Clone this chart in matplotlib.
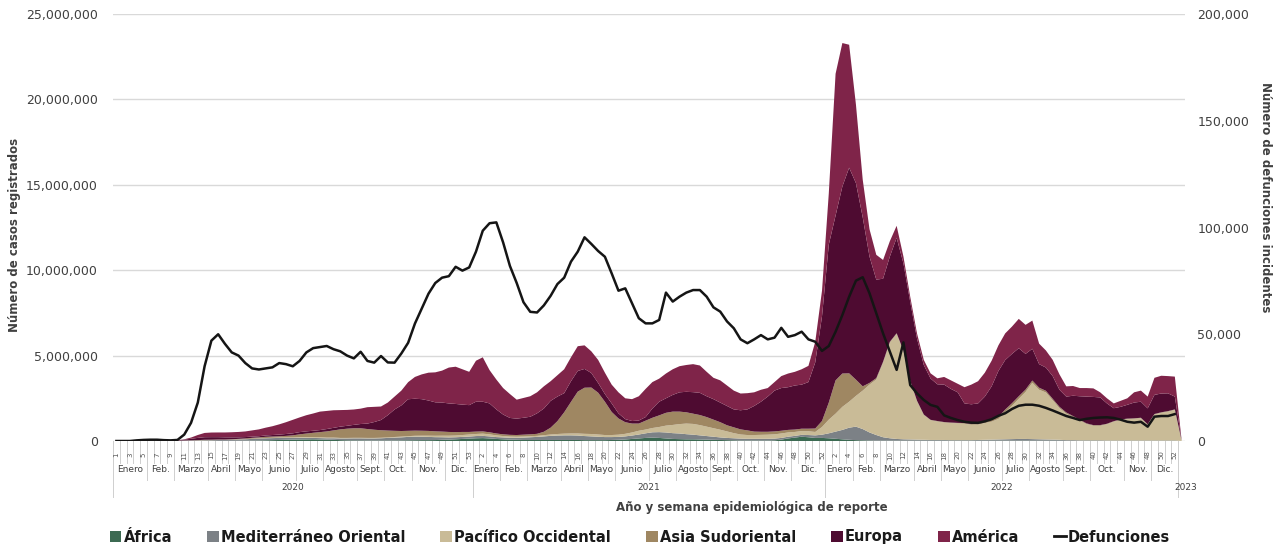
import numpy as np
import matplotlib.pyplot as plt
from matplotlib.patches import Patch
from matplotlib.lines import Line2D
from matplotlib.ticker import FuncFormatter

# weekly cases by WHO region (millions), 2020 wk1 .. 2023 wk1
africa = ([0, 0, 0, 0, 0, 0, 0, 0, 0, 0, 0, 0, .002, .004, .006, .008, .01, .012, .015, .02, .025, .03, .04, .05, .06,
           .07, .08, .09, .095, .1, .09, .08, .07, .05, .04, .035, .035, .03, .03, .03, .03, .03, .035, .04, .045, .05,
           .05, .055, .07, .08, .1, .12, .14] +
          [.16, .17, .15, .12, .1, .08, .07, .06, .06, .06, .06, .06, .06, .06, .06, .06, .05, .05, .05, .05,
           .06, .07, .09, .12, .15, .18, .2, .18, .15, .12, .11, .1, .1, .09, .08, .07, .06, .05, .04, .03,
           .03, .03, .03, .03, .04, .08, .15, .2, .25, .22, .18, .18] +
          [.16, .13, .1, .07, .05, .04, .03] + [.02] * 28 + [.01] * 17 + [0])
mediterraneo = ([0, 0, 0, 0, 0, 0, 0, 0, .002, .01, .02, .03, .03, .04, .04, .05, .05, .06, .07, .08, .1, .11, .12,
                 .12, .12, .11, .1, .1, .09, .08, .08, .08, .09, .1, .11, .12, .12, .12, .12, .13, .15, .17, .18, .2,
                 .21, .2, .19, .17, .15, .13, .12, .12, .12] +
                [.13, .13, .12, .11, .11, .11, .12, .14, .16, .18, .21, .24, .26, .27, .27, .26, .24, .22, .2, .18,
                 .17, .17, .18, .2, .23, .27, .31, .34, .35, .34, .33, .3, .27, .24, .21, .18, .15, .13, .12, .11,
                 .1, .1, .1, .1, .1, .1, .1, .1, .11, .13, .15, .19] +
                [.29, .42, .55, .71, .79, .66, .47, .33, .2, .14, .1, .08, .07, .06, .05, .04, .04, .04, .03, .03,
                 .03, .03, .04, .05, .06, .07, .08, .09, .1, .1, .09, .08, .07, .06, .05, .04, .04, .03, .03, .03,
                 .03, .02, .02, .02, .02, .02, .02, .02, .02, .02, .02, .02, 0])
pacifico = ([0, 0, .002, .01, .02, .02, .02, .01, .01, .01, .01, .01, .015, .02, .02, .015, .01, .01, .01, .01,
             .01, .01, .015, .02, .025, .03, .03, .04, .05, .05, .05, .04, .04, .03, .03, .03, .03, .03, .03, .03,
             .03, .035, .04, .045, .05, .06, .07, .08, .09, .1, .1, .11, .12] +
            [.12, .13, .12, .1, .08, .07, .06, .06, .06, .06, .07, .08, .09, .1, .11, .12, .13, .14, .13, .12,
             .12, .13, .15, .18, .22, .22, .25, .3, .4, .48, .55, .62, .63, .6, .55, .5, .45, .38, .3, .24,
             .22, .22, .23, .24, .25, .26, .25, .23, .22, .22, .2, .45] +
            [.8, 1.05, 1.35, 1.52, 1.8, 2.25, 2.8, 3.25, 4.36, 5.6, 6.15, 5.15, 3.4, 2.25, 1.45, 1.15, 1.08, 1.02,
             1.0, .98, .96, .9, .9, .98, 1.05, 1.2, 1.6, 1.95, 2.35, 2.75, 3.3, 2.9, 2.75, 2.3, 1.85, 1.55, 1.35,
             1.15, .95, .85, .85, .95, 1.1, 1.2, 1.25, 1.27, 1.3, .92, 1.52, 1.62, 1.69, 1.79, .03])
asia_sud = ([0, 0, 0, 0, 0, 0, 0, 0, 0, 0, 0, .002, .005, .008, .01, .012, .015, .02, .03, .04,
             .05, .06, .07, .07, .07, .09, .12, .16, .2, .25, .3, .36, .42, .5, .54, .56, .56, .52, .48, .44,
             .4, .36, .33, .31, .3, .29, .28, .26, .24, .22, .2, .18, .15] +
            [.14, .13, .12, .11, .1, .1, .1, .11, .11, .12, .2, .4, .75, 1.25, 1.85, 2.45, 2.7, 2.72, 2.45, 1.95,
             1.35, .95, .68, .52, .42, .52, .6, .68, .75, .78, .73, .66, .6, .59, .56, .5, .44, .36, .34, .3,
             .27, .2, .18, .17, .17, .16, .15, .14, .14, .15, .2, .35] +
            [1.0, 1.95, 1.95, 1.66, .95, .25, .1, .08, .06, .05, .04, .04, .03, .03, .03, .03, .03, .03, .03, .03,
             .04, .05, .06, .08, .1, .12, .14, .15, .15, .14, .13, .12, .1, .09, .08, .07, .06, .05, .04, .04,
             .04, .03, .03, .03, .03, .03, .03, .03, .03, .03, .03, .03, 0])
europa = ([0, 0, 0, 0, 0, 0, 0, .002, .005, .02, .05, .09, .13, .15, .15, .14, .13, .11, .09, .08,
           .07, .07, .08, .09, .1, .11, .12, .13, .13, .12, .12, .14, .15, .16, .17, .2, .25, .32, .45, .6,
           .9, 1.25, 1.5, 1.85, 1.87, 1.85, 1.78, 1.7, 1.7, 1.67, 1.65, 1.6, 1.57] +
          [1.75, 1.74, 1.69, 1.41, 1.16, .99, .96, .99, 1.03, 1.2, 1.36, 1.57, 1.44, 1.12, 1.21, 1.21, 1.1, .85,
           .57, .45, .5, .3, .18, .15, .18, .21, .54, .8, .85, .98, 1.13, 1.2, 1.26, 1.3, 1.22, 1.2, 1.15, 1.13,
           1.05, 1.12, 1.23, 1.5, 1.76, 2.06, 2.39, 2.5, 2.5, 2.58, 2.58, 2.73, 3.87, 6.13] +
          [9.25, 9.65, 10.95, 12.04, 11.51, 9.9, 7.4, 5.77, 4.86, 4.99, 5.59, 5.11, 4.63, 3.64, 2.9, 2.42, 2.15,
           2.19, 1.97, 1.79, 1.15, 1.15, 1.18, 1.47, 1.97, 2.69, 2.9, 2.89, 2.81, 2.09, 1.86, 1.38, 1.36, 1.33,
           1.0, .93, 1.19, 1.38, 1.57, 1.65, 1.62, 1.19, .76, .74, .81, .92, .94, .93, 1.12, 1.1, 1.04, .75, .01])
america = ([0, 0, 0, 0, 0, 0, 0, 0, 0, .005, .02, .07, .17, .25, .27, .275, .285, .3, .315, .33,
            .365, .4, .455, .515, .6, .69, .79, .86, .945, 1.01, 1.08, 1.06, 1.03, .97, .93, .9, .9, .96, .89, .79,
            .74, .755, .865, 1.0, 1.275, 1.45, 1.63, 1.755, 1.87, 2.1, 2.18, 2.07, 1.95] +
           [2.4, 2.6, 1.95, 1.75, 1.55, 1.4, 1.11, 1.16, 1.2, 1.23, 1.3, 1.15, 1.25, 1.4, 1.4, 1.45, 1.38, 1.27,
            1.35, 1.25, 1.1, 1.23, 1.22, 1.28, 1.42, 1.65, 1.55, 1.35, 1.45, 1.5, 1.53, 1.57, 1.64, 1.6, 1.43,
            1.25, 1.3, 1.2, 1.1, .98, .95, .8, .7, .5, .5, .7, .8, .8, .9, .95, 1.2, 1.5] +
           [3.0, 8.3, 8.4, 7.2, 4.6, 2.2, 1.6, 1.45, 1.1, .9, .7, .4, .3, .3, .3, .3, .35, .45, .5, .5,
            .95, 1.15, 1.3, 1.4, 1.5, 1.5, 1.56, 1.6, 1.72, 1.7, 1.65, 1.2, 1.0, .95, .9, .6, .57, .48, .5, .5,
            .3, .3, .28, .35, .38, .6, .65, .69, 1.0, 1.04, 1.01, 1.17, .01])

# weekly deaths (thousands)
defunciones = ([0, 0, 0, .3, .5, .6, .6, .4, .3, .5, 3, 8.5, 18, 35, 47, 50, 45.5, 41.5, 40, 36.5,
                34, 33.5, 34, 34.5, 36.5, 36, 35, 37.5, 41.5, 43.5, 44, 44.5, 43, 42, 40, 38.7, 41.8, 37.5, 36.7,
                39.8, 36.8, 36.7, 41, 46, 55, 62, 69, 74, 76.5, 77.2, 81.6, 79.8, 81.3] +
               [88.7, 98.5, 102, 102.4, 93, 82, 74, 65, 60.5, 60.2, 63.5, 68, 73.5, 76.5, 84, 88.7, 95.4, 92.3,
                89, 86.3, 78.5, 70.4, 71.5, 64.5, 57.5, 55.1, 55.1, 56.7, 69.5, 65.3, 67.6, 69.5, 70.7, 70.7,
                67.6, 62.6, 60.6, 56, 52.8, 47.6, 45.8, 47.6, 49.6, 47.6, 48.4, 53, 48.8, 49.6, 51.2, 47.6,
                46.5, 42.2] +
               [44.5, 51.2, 59, 67.6, 75.1, 76.7, 69.2, 59.8, 50.4, 41.8, 33.3, 46.2, 26.2, 22.3, 19.2, 16.9, 16,
                12, 10.8, 9.8, 9, 8.6, 8.5, 9.2, 10.2, 11.8, 13, 15, 16.5, 17, 17, 16.5, 15.5, 14.3, 13, 11.7,
                10.8, 9.8, 10.4, 10.8, 11, 11.1, 10.8, 10, 9, 8.6, 9, 6.7, 11.4, 11.7, 11.7, 12.6, np.nan])

regiones = ['África', 'Mediterráneo Oriental', 'Pacífico Occidental', 'Asia Sudoriental', 'Europa', 'América']
colores = ['#3c6a52', '#7c8186', '#c9bb97', '#9f8762', '#4e0b31', '#7f2449']

semanas_por_anio = [(2020, 53), (2021, 52), (2022, 52), (2023, 1)]
meses_2020 = [('Enero', 5), ('Feb.', 4), ('Marzo', 5), ('Abril', 4), ('Mayo', 4), ('Junio', 5), ('Julio', 4),
              ('Agosto', 5), ('Sept.', 4), ('Oct.', 4), ('Nov.', 5), ('Dic.', 4)]
meses_2021 = [('Enero', 4), ('Feb.', 4), ('Marzo', 5), ('Abril', 4), ('Mayo', 4), ('Junio', 5), ('Julio', 4),
              ('Agosto', 5), ('Sept.', 4), ('Oct.', 4), ('Nov.', 4), ('Dic.', 5)]
meses_2022 = [('Enero', 4), ('Feb.', 4), ('Marzo', 5), ('Abril', 4), ('Mayo', 4), ('Junio', 5), ('Julio', 4),
              ('Agosto', 5), ('Sept.', 4), ('Oct.', 5), ('Nov.', 4), ('Dic.', 4)]
meses_2023 = [('', 1)]
meses = [meses_2020, meses_2021, meses_2022, meses_2023]

series = [africa, mediterraneo, pacifico, asia_sud, europa, america]
n = len(defunciones)
x = np.arange(n)
txt = '#404040'

fig = plt.figure(figsize=(12.8, 5.49), dpi=100)
ax = fig.add_axes([113 / 1280, 1 - 441 / 549, (1185 - 113) / 1280, (441 - 14) / 549])
ax.stackplot(x, *[np.array(s) * 1e6 for s in series], colors=colores, linewidth=0)
ax.set_xlim(-0.5, n - 0.5)
ax.set_ylim(0, 25e6)
ax.set_yticks(np.arange(0, 25e6 + 1, 5e6))
ax.yaxis.set_major_formatter(FuncFormatter(lambda v, p: f'{v:,.0f}'))
ax.grid(axis='y', color='#d9d9d9', lw=1)
ax.set_axisbelow(True)
ax.set_xticks([])
ax.tick_params(axis='y', length=0, pad=11, labelsize=9, labelcolor=txt)
for s in ax.spines.values():
    s.set_visible(False)

ax2 = ax.twinx()
ax2.plot(x, np.array(defunciones) * 1000, color='#151515', lw=1.8)
ax2.set_ylim(0, 200000)
ax2.set_yticks(np.arange(0, 200001, 50000))
ax2.yaxis.set_major_formatter(FuncFormatter(lambda v, p: f'{v:,.0f}'))
ax2.tick_params(axis='y', length=0, pad=9, labelsize=9, labelcolor=txt)
for s in ax2.spines.values():
    s.set_visible(False)

# three-level category axis: week, month, year
tr = ax.get_xaxis_transform()
h = 427.0
sep = '#cfcfcf'


def vline(xpos, depth):
    ax.add_line(Line2D([xpos, xpos], [0, -depth / h], transform=tr, color=sep, lw=0.7, clip_on=False))


i0 = 0
for (anio, nsem), meses_anio in zip(semanas_por_anio, meses):
    for k in range(nsem):
        i = i0 + k
        vline(i - 0.5, 22)
        if i % 2 == 0:
            ax.text(i, -14 / h, str(k + 1), transform=tr, rotation=90, ha='center', va='center',
                    fontsize=5, color='#555555')
    j = i0
    for mes, nm in meses_anio:
        vline(j - 0.5, 39)
        if mes:
            ax.text(j + (nm - 1) / 2, -29 / h, mes, transform=tr, ha='center', va='center',
                    fontsize=6.5, color=txt)
        j += nm
    vline(i0 - 0.5, 56)
    ax.text(i0 + (nsem - 1) / 2 + (0.6 if nsem == 1 else 0), -46 / h, str(anio), transform=tr,
            ha='center', va='center', fontsize=6.5, color=txt)
    i0 += nsem

fig.text(15 / 1280, 1 - 235 / 549, 'Número de casos registrados', rotation=90, ha='center', va='center',
         fontsize=8.5, fontweight='bold', color=txt)
fig.text(1265 / 1280, 1 - 197 / 549, 'Número de defunciones incidentes', rotation=270, ha='center',
         va='center', fontsize=8.5, fontweight='bold', color=txt)
fig.text(752 / 1280, 1 - 508 / 549, 'Año y semana epidemiológica de reporte', ha='center', va='center',
         fontsize=8.5, fontweight='bold', color=txt)

handles = [Patch(facecolor=c, label=r) for c, r in zip(colores, regiones)]
handles.append(Line2D([], [], color='#151515', lw=2, label='Defunciones'))
fig.legend(handles=handles, loc='center', bbox_to_anchor=(640 / 1280, 1 - 537 / 549), ncol=7, frameon=False,
           prop={'weight': 'bold', 'size': 10.5}, handlelength=0.8, handleheight=0.8, handletextpad=0.15,
           columnspacing=2.4, labelcolor='#1a1a1a')

fig.savefig('out.png', dpi=100)
